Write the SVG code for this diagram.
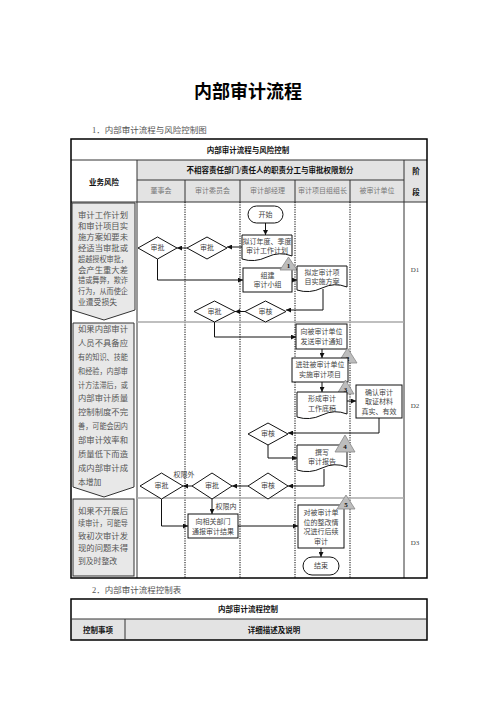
<svg xmlns="http://www.w3.org/2000/svg" width="496" height="702" viewBox="0 0 496 702">
<style>
text{font-family:"Liberation Serif","Noto Sans CJK SC",sans-serif;fill:#222}
.c{text-anchor:middle;dominant-baseline:central}
.h{font-weight:bold;font-size:7.5px;fill:#111}
.sh{font-size:7px;fill:#777}
.n{font-size:7px;fill:#444}
.r{font-size:7.8px;fill:#555;dominant-baseline:central}
.box{fill:#fff;stroke:#111;stroke-width:1}
.risk{fill:#e8e8e8;stroke:#333;stroke-width:1}
.tri{fill:#bdbdbd;stroke:#888;stroke-width:0.8}
.num{font-size:7px;font-weight:bold;fill:#111}
.lane{stroke:#000;stroke-width:1;stroke-dasharray:1.2 1.2}
.con{fill:none;stroke:#111;stroke-width:1;marker-end:url(#ah)}
.grid{stroke:#333;stroke-width:1}
</style>
<defs>
<marker id="ah" viewBox="0 0 10 10" refX="10" refY="5" markerWidth="5" markerHeight="5" markerUnits="userSpaceOnUse" orient="auto">
<path d="M0,0 L10,5 L0,10 z" fill="#111"/>
</marker>
</defs>
<rect width="496" height="702" fill="#fff"/>

<g id="heading">
<text class="c" x="248" y="90" style="font-size:18px;font-weight:bold;font-family:'Noto Sans CJK SC',sans-serif;fill:#000">内部审计流程</text>
<text x="92" y="133" style="font-size:8.5px;fill:#555">1．内部审计流程与风险控制图</text>
</g>

<g id="table">
<rect x="137" y="160" width="267" height="42" fill="#e3e3e3"/>
<rect x="404" y="160" width="23" height="42" fill="#e3e3e3"/>
<line class="grid" x1="71" y1="160" x2="427" y2="160"/>
<line class="grid" x1="137" y1="180" x2="404" y2="180"/>
<line class="grid" x1="71" y1="202" x2="427" y2="202"/>
<line class="grid" x1="137" y1="160" x2="137" y2="578"/>
<line class="grid" x1="404" y1="160" x2="404" y2="578"/>
<line class="grid" x1="185" y1="180" x2="185" y2="202"/>
<line class="grid" x1="240" y1="180" x2="240" y2="202"/>
<line class="grid" x1="295" y1="180" x2="295" y2="202"/>
<line class="grid" x1="350" y1="180" x2="350" y2="202"/>
<line class="lane" x1="185" y1="202" x2="185" y2="578"/>
<line class="lane" x1="240" y1="202" x2="240" y2="578"/>
<line class="lane" x1="295" y1="202" x2="295" y2="578"/>
<line class="lane" x1="350" y1="202" x2="350" y2="578"/>
<line x1="137" y1="322" x2="404" y2="322" stroke="#aaa" stroke-width="1.3"/>
<line x1="137" y1="498" x2="404" y2="498" stroke="#aaa" stroke-width="1.3"/>
<rect x="71" y="139" width="356" height="439" fill="none" stroke="#000" stroke-width="1.5"/>
<text class="c h" x="248" y="150">内部审计流程与风险控制</text>
<text class="c h" x="270" y="170">不相容责任部门/责任人的职责分工与审批权限划分</text>
<text class="c h" x="104" y="182">业务风险</text>
<text class="c h" x="416" y="171">阶</text>
<text class="c h" x="416" y="192">段</text>
<text class="c sh" x="161" y="191">董事会</text>
<text class="c sh" x="212.5" y="191">审计委员会</text>
<text class="c sh" x="267.5" y="191">审计部经理</text>
<text class="c sh" x="322.5" y="191">审计项目组组长</text>
<text class="c sh" x="377" y="191">被审计单位</text>
<text class="c n" x="415" y="270">D1</text>
<text class="c n" x="415" y="406">D2</text>
<text class="c n" x="415" y="543">D3</text>
</g>

<g id="risk1">
<path class="risk" d="M72,203 H135 V310 L104,320 L72,310 Z"/>
<text class="r" x="78" y="215" textLength="50" lengthAdjust="spacingAndGlyphs">审计工作计划</text>
<text class="r" x="78" y="226" textLength="50" lengthAdjust="spacingAndGlyphs">和审计项目实</text>
<text class="r" x="78" y="237" textLength="50" lengthAdjust="spacingAndGlyphs">施方案如要未</text>
<text class="r" x="78" y="248" textLength="50" lengthAdjust="spacingAndGlyphs">经适当审批或</text>
<text class="r" x="78" y="259" textLength="50" lengthAdjust="spacingAndGlyphs">超越授权审批，</text>
<text class="r" x="78" y="270" textLength="50" lengthAdjust="spacingAndGlyphs">会产生重大差</text>
<text class="r" x="78" y="280" textLength="50" lengthAdjust="spacingAndGlyphs">错或舞弊，欺诈</text>
<text class="r" x="78" y="291" textLength="50" lengthAdjust="spacingAndGlyphs">行为，从而使企</text>
<text class="r" x="78" y="302">业遭受损失</text>
</g>

<g id="risk2">
<path class="risk" d="M73,323 H134 V487 L104,497 L73,487 Z"/>
<text class="r" x="78" y="329" textLength="50" lengthAdjust="spacingAndGlyphs">如果内部审计</text>
<text class="r" x="78" y="343" textLength="50" lengthAdjust="spacingAndGlyphs">人员不具备应</text>
<text class="r" x="78" y="357" textLength="50" lengthAdjust="spacingAndGlyphs">有的知识、技能</text>
<text class="r" x="78" y="371" textLength="50" lengthAdjust="spacingAndGlyphs">和经验，内部审</text>
<text class="r" x="78" y="385" textLength="50" lengthAdjust="spacingAndGlyphs">计方法滞后，或</text>
<text class="r" x="78" y="398" textLength="50" lengthAdjust="spacingAndGlyphs">内部审计质量</text>
<text class="r" x="78" y="412" textLength="50" lengthAdjust="spacingAndGlyphs">控制制度不完</text>
<text class="r" x="78" y="426" textLength="50" lengthAdjust="spacingAndGlyphs">善，可能会因内</text>
<text class="r" x="78" y="440" textLength="50" lengthAdjust="spacingAndGlyphs">部审计效率和</text>
<text class="r" x="78" y="454" textLength="50" lengthAdjust="spacingAndGlyphs">质量低下而造</text>
<text class="r" x="78" y="468" textLength="50" lengthAdjust="spacingAndGlyphs">成内部审计成</text>
<text class="r" x="78" y="482">本增加</text>
</g>

<g id="risk3">
<rect class="risk" x="73" y="499" width="61" height="77"/>
<text class="r" x="78" y="511" textLength="50" lengthAdjust="spacingAndGlyphs">如果不开展后</text>
<text class="r" x="78" y="523.5" textLength="50" lengthAdjust="spacingAndGlyphs">续审计，可能导</text>
<text class="r" x="78" y="536" textLength="50" lengthAdjust="spacingAndGlyphs">致初次审计发</text>
<text class="r" x="78" y="548.5" textLength="50" lengthAdjust="spacingAndGlyphs">现的问题未得</text>
<text class="r" x="78" y="561">到及时整改</text>
</g>

<g id="connectors">
<path class="con" d="M265.5,223 V235"/>
<path class="con" d="M242,247 H227"/>
<path class="con" d="M187,248 H177"/>
<path class="con" d="M157.5,259 V280 H243"/>
<path class="con" d="M292,280 H297"/>
<path class="con" d="M323,289 V310 H286"/>
<path class="con" d="M245,311.5 H235"/>
<path class="con" d="M214.5,322 V337 H296"/>
<path class="con" d="M322,349 V358"/>
<path class="con" d="M322,382 V392"/>
<path class="con" d="M347,401 H356"/>
<path class="con" d="M379,418 V433 H288"/>
<path class="con" d="M268,445 V458 H297"/>
<path class="con" d="M324,469 V486 H288"/>
<path class="con" d="M248,486 H232"/>
<path class="con" d="M192,486 H183"/>
<path class="con" d="M161.5,499 V526 H188"/>
<path class="con" d="M212,499 V514"/>
<path class="con" d="M238,526 H298"/>
<path class="con" d="M321,548 V557"/>
<text class="c n" x="184" y="475">权限外</text>
<text class="c n" x="226" y="507">权限内</text>
</g>

<g id="start">
<rect class="box" x="248" y="206" width="35" height="17" rx="8.5"/>
<text class="c n" x="265.5" y="214.5">开始</text>
</g>
<g id="plan">
<path class="box" d="M242,235 H292 V256 Q279.5,251 267,257 T242,259 Z"/>
<text class="c n" x="267" y="242">拟订年度、季度</text>
<text class="c n" x="267" y="251">审计工作计划</text>
</g>
<g id="approve-committee-1">
<path class="box" d="M187,248 L207,237 L227,248 L207,259 Z"/>
<text class="c n" x="207" y="248">审批</text>
</g>
<g id="approve-board-1">
<path class="box" d="M138,248 L157.5,237 L177,248 L157.5,259 Z"/>
<text class="c n" x="157.5" y="248">审批</text>
</g>
<g id="team">
<rect class="box" x="243" y="268" width="49" height="24"/>
<text class="c n" x="267.5" y="275.5">组建</text>
<text class="c n" x="267.5" y="285">审计小组</text>
</g>
<g id="mark1">
<path class="tri" d="M280,270 L297,270 L288.5,257 Z"/>
<text class="c num" x="288.5" y="266">1</text>
</g>
<g id="scheme">
<path class="box" d="M297,266 H347 V287 Q334.5,282 322,288 T297,290 Z"/>
<text class="c n" x="322" y="273">拟定审计项</text>
<text class="c n" x="322" y="282">目实施方案</text>
</g>
<g id="review-1">
<path class="box" d="M245,311.5 L265.5,301 L286,311.5 L265.5,322 Z"/>
<text class="c n" x="265.5" y="311.5">审核</text>
</g>
<g id="approve-committee-2">
<path class="box" d="M194,311.5 L214.5,301 L235,311.5 L214.5,322 Z"/>
<text class="c n" x="214.5" y="311.5">审批</text>
</g>
<g id="notice">
<rect class="box" x="296" y="324" width="51" height="25"/>
<text class="c n" x="321.5" y="331.5">向被审计单位</text>
<text class="c n" x="321.5" y="341.5">发送审计通知</text>
</g>
<g id="mark2">
<path class="tri" d="M338,363 L357,363 L347.5,348 Z"/>
<text class="c num" x="347.5" y="359">2</text>
</g>
<g id="enter">
<rect class="box" x="292" y="358" width="56" height="24"/>
<text class="c n" x="320" y="365">进驻被审计单位</text>
<text class="c n" x="320" y="375">实施审计项目</text>
</g>
<g id="mark3">
<path class="tri" d="M337,394 L354,394 L345.5,380 Z"/>
<text class="c num" x="345.5" y="390">3</text>
</g>
<g id="workpaper">
<path class="box" d="M297,392 H347 V414 Q334.5,409 322,415 T297,417 Z"/>
<text class="c n" x="322" y="399">形成审计</text>
<text class="c n" x="322" y="408.5">工作底稿</text>
</g>
<g id="confirm">
<rect class="box" x="356" y="385" width="46" height="33"/>
<text class="c n" x="379" y="392.5">确认审计</text>
<text class="c n" x="379" y="402">取证材料</text>
<text class="c n" x="379" y="411.5">真实、有效</text>
</g>
<g id="review-2">
<path class="box" d="M248,434 L268,423 L288,434 L268,445 Z"/>
<text class="c n" x="268" y="434">审核</text>
</g>
<g id="report">
<path class="box" d="M297,445 H347 V467 Q334.5,462 322,468 T297,470 Z"/>
<text class="c n" x="322" y="452.5">撰写</text>
<text class="c n" x="322" y="462">审计报告</text>
</g>
<g id="mark4">
<path class="tri" d="M335,452 L355,452 L345,435 Z"/>
<text class="c num" x="345" y="447">4</text>
</g>
<g id="review-3">
<path class="box" d="M248,486 L268,473 L288,486 L268,499 Z"/>
<text class="c n" x="268" y="486">审核</text>
</g>
<g id="approve-committee-3">
<path class="box" d="M192,486 L212,473 L232,486 L212,499 Z"/>
<text class="c n" x="212" y="486">审批</text>
</g>
<g id="approve-board-2">
<path class="box" d="M140,486 L161.5,473 L183,486 L161.5,499 Z"/>
<text class="c n" x="161.5" y="486">审批</text>
</g>
<g id="inform">
<rect class="box" x="188" y="514" width="50" height="24"/>
<text class="c n" x="213" y="521.5">向相关部门</text>
<text class="c n" x="213" y="531.5">通报审计结果</text>
</g>
<g id="followup">
<rect class="box" x="298" y="505" width="46" height="43"/>
<text class="c n" x="321" y="513">对被审计单</text>
<text class="c n" x="321" y="522.5">位的整改情</text>
<text class="c n" x="321" y="532">况进行后续</text>
<text class="c n" x="321" y="541.5">审计</text>
</g>
<g id="mark5">
<path class="tri" d="M337,509 L355,509 L346,495 Z"/>
<text class="c num" x="346" y="505">5</text>
</g>
<g id="end">
<rect class="box" x="303" y="557" width="36" height="18" rx="9"/>
<text class="c n" x="321" y="566">结束</text>
</g>

<g id="table2">
<text x="92" y="593" style="font-size:8.5px;fill:#555">2．内部审计流程控制表</text>
<rect x="71" y="619" width="356" height="21" fill="#e3e3e3"/>
<rect x="71" y="599" width="356" height="41" fill="none" stroke="#000" stroke-width="1.5"/>
<line class="grid" x1="71" y1="619" x2="427" y2="619"/>
<line class="grid" x1="125" y1="619" x2="125" y2="640"/>
<text class="c h" x="248" y="609.5">内部审计流程控制</text>
<text class="c h" x="98" y="630">控制事项</text>
<text class="c h" x="274" y="630">详细描述及说明</text>
</g>
</svg>
